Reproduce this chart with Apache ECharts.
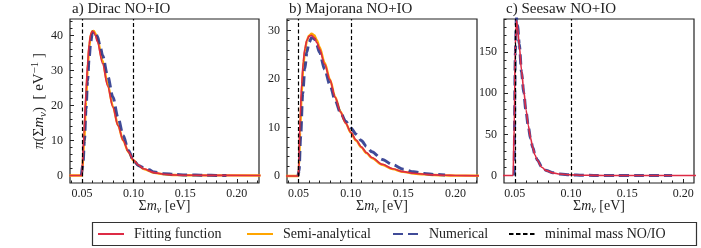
<!DOCTYPE html>
<html><head><meta charset="utf-8">
<script src="https://cdn.jsdelivr.net/npm/echarts@6/dist/echarts.min.js"></script>
<style>html,body{margin:0;padding:0;background:#fff}#c{width:701px;height:248px}</style>
</head><body><div id="c"></div>
<script>
// ---------- data ----------
const panelTitles = ['a) Dirac NO+IO', 'b) Majorana NO+IO', 'c) Seesaw NO+IO'];
const xTickLabels = [0.05, 0.10, 0.15, 0.20];
const yTicksA = [0, 10, 20, 30, 40];
const yTicksB = [0, 10, 20, 30];
const yTicksC = [0, 50, 100, 150];
const minimalMass = [0.05, 0.0995];

// Panel a: Dirac
const xA = [0.038, 0.05, 0.0502, 0.052, 0.054, 0.0555, 0.057, 0.0585, 0.060, 0.0615, 0.063, 0.065, 0.070, 0.075, 0.080, 0.085, 0.090, 0.095, 0.100, 0.105, 0.110, 0.120, 0.130, 0.140, 0.150, 0.170, 0.223];
const fitA = [0, 0, 1, 12, 24, 32, 37.5, 40.3, 41.2, 41.0, 40.0, 38.2, 32, 25.5, 19.5, 14.2, 10, 6.8, 4.4, 2.9, 1.9, 0.8, 0.35, 0.15, 0.07, 0.02, 0];
const semiA = [0, 0, 0.5, 9, 21, 30, 36.5, 40, 41.2, 41.3, 40.6, 38.9, 32.8, 26, 19.8, 14.3, 10, 6.7, 4.3, 2.8, 1.8, 0.75, 0.3, 0.13, 0.06, 0.02, 0];
const xNumA = [0.0495, 0.051, 0.0525, 0.054, 0.0555, 0.057, 0.0585, 0.060, 0.0615, 0.063, 0.065, 0.0675, 0.070, 0.075, 0.080, 0.085, 0.090, 0.095, 0.100, 0.105, 0.110, 0.115, 0.120, 0.130, 0.140, 0.150, 0.160, 0.170, 0.180, 0.190];
const numA = [0, 3, 10, 19, 27, 33.5, 38, 40.5, 41.2, 41, 39.8, 37.2, 34.3, 28.4, 22.4, 16.5, 11.4, 7.2, 4.3, 2.8, 2.2, 1.6, 1.0, 0.5, 0.3, 0.15, 0.1, 0.05, 0.02, 0];

// Panel b: Majorana
const xB = [0.038, 0.05, 0.0503, 0.0515, 0.053, 0.0545, 0.056, 0.058, 0.060, 0.0625, 0.065, 0.0675, 0.070, 0.075, 0.080, 0.085, 0.090, 0.095, 0.100, 0.105, 0.110, 0.115, 0.120, 0.130, 0.140, 0.150, 0.160, 0.170, 0.180, 0.190, 0.200, 0.223];
const fitB = [0, 0, 3, 12, 19, 23.5, 26.2, 28, 28.8, 29.0, 28.5, 27.5, 26.2, 23, 19.8, 16.2, 13.2, 10.9, 9.0, 7.4, 6.0, 4.8, 3.8, 2.4, 1.5, 0.9, 0.55, 0.35, 0.22, 0.14, 0.09, 0.04];
const semiB = [0, 0, 1.5, 9, 17, 22.5, 25.7, 27.9, 28.9, 29.3, 29.0, 28.0, 26.6, 23.3, 19.9, 16.3, 13.3, 10.9, 8.9, 7.3, 5.9, 4.7, 3.7, 2.3, 1.4, 0.85, 0.5, 0.32, 0.2, 0.12, 0.08, 0.03];
const xNumB = [0.0495, 0.0505, 0.052, 0.054, 0.056, 0.058, 0.060, 0.0625, 0.065, 0.0675, 0.070, 0.075, 0.080, 0.085, 0.090, 0.095, 0.100, 0.105, 0.110, 0.115, 0.120, 0.130, 0.140, 0.150, 0.160, 0.170, 0.180, 0.190];
const numB = [0, 1, 8, 17, 22, 25.5, 27.5, 28.5, 28.3, 27, 25.5, 22, 18.8, 15.6, 13.1, 11.3, 9.9, 8.6, 7.3, 6.1, 5.0, 3.4, 2.3, 1.4, 0.85, 0.5, 0.3, 0.2];

// Panel c: Seesaw
const xC = [0.038, 0.0485, 0.0495, 0.0505, 0.0515, 0.0525, 0.054, 0.056, 0.058, 0.060, 0.062, 0.064, 0.066, 0.068, 0.070, 0.074, 0.078, 0.084, 0.090, 0.100, 0.110, 0.120, 0.140, 0.215];
const fitC = [0, 0, 60, 160, 188, 180, 158, 128, 103, 80, 61, 46, 34, 25, 18.5, 10, 6, 3.2, 1.8, 0.8, 0.35, 0.15, 0.03, 0];
const xNumC = [0.0495, 0.0505, 0.0515, 0.0525, 0.054, 0.056, 0.058, 0.060, 0.062, 0.064, 0.066, 0.068, 0.070, 0.074, 0.078, 0.084, 0.090, 0.100, 0.110, 0.120, 0.140, 0.160, 0.190];
const numC = [0, 150, 192, 182, 160, 126, 100, 78, 60, 45, 34, 25.5, 19, 10.5, 6.2, 3.4, 1.9, 0.8, 0.35, 0.15, 0.03, 0, 0];

// ---------- chart ----------
const FONT = "'Liberation Serif', 'Times New Roman', serif";
const INK = '#222';
const RED = '#dd2b45', ORANGE = '#ffa500', BLUE = '#1f2c86';
const pairs = (xs, ys) => xs.map((x, i) => [x, ys[i]]);
const range = (a, b, s) => { const r = []; for (let v = a; v <= b + 1e-9; v += s) r.push(+v.toFixed(6)); return r; };

const rich = {
  r: {fontFamily: FONT, fontSize: 14, lineHeight: 18, color: INK},
  i: {fontFamily: FONT, fontSize: 14, lineHeight: 18, fontStyle: 'italic', color: INK},
  sub: {fontFamily: FONT, fontSize: 10, lineHeight: 10, fontStyle: 'italic', verticalAlign: 'bottom', color: INK},
  sup: {fontFamily: FONT, fontSize: 10, lineHeight: 10, verticalAlign: 'top', color: INK}
};
const richY = {
  r: {fontFamily: FONT, fontSize: 15, lineHeight: 19, color: INK},
  i: {fontFamily: FONT, fontSize: 15, lineHeight: 19, fontStyle: 'italic', color: INK},
  sub: {fontFamily: FONT, fontSize: 11, lineHeight: 11, fontStyle: 'italic', verticalAlign: 'bottom', color: INK},
  sup: {fontFamily: FONT, fontSize: 11, lineHeight: 11, verticalAlign: 'top', color: INK}
};

const panels = [
  {left: 70, width: 189, x: [0.0385, 0.2215], y: [-2.15, 44.7], yTicks: yTicksA, yMinor: 2,
   fit: pairs(xA, fitA), semi: pairs(xA, semiA), num: pairs(xNumA, numA)},
  {left: 287, width: 190, x: [0.039, 0.2205], y: [-1.45, 32.35], yTicks: yTicksB, yMinor: 2,
   fit: pairs(xB, fitB), semi: pairs(xB, semiB), num: pairs(xNumB, numB)},
  {left: 504, width: 190, x: [0.0404, 0.2095], y: [-9.1, 190.3], yTicks: yTicksC, yMinor: 10,
   fit: pairs(xC, fitC), semi: null, num: pairs(xNumC, numC)}
];

const grid = [], xAxis = [], yAxis = [], series = [], title = [];
panels.forEach((p, i) => {
  grid.push({left: p.left, width: p.width, top: 19, height: 164, show: true,
    borderColor: INK, borderWidth: 1.2, backgroundColor: 'transparent', containLabel: false});
  title.push({text: panelTitles[i], left: p.left + 2, top: 2, padding: 0,
    textStyle: {fontFamily: FONT, fontSize: 15, fontWeight: 'normal', color: INK}});
  const xMinor = range(0.04, 0.22, 0.01).filter(v => v >= p.x[0] && v <= p.x[1] && !xTickLabels.some(t => Math.abs(t - v) < 1e-6));
  const yMinorVals = range(0, p.y[1], p.yMinor).filter(v => !p.yTicks.includes(v));
  const common = {type: 'value', gridIndex: i, splitLine: {show: false}, axisLine: {show: false, onZero: false}, nameMoveOverlap: false};
  xAxis.push(Object.assign({}, common, {
    min: p.x[0], max: p.x[1], position: 'bottom',
    axisTick: {inside: true, length: 4, customValues: xTickLabels, lineStyle: {color: INK, width: 1}},
    axisLabel: {customValues: xTickLabels, formatter: v => v.toFixed(2), margin: 5, fontFamily: FONT, fontSize: 12, color: INK},
    name: '{r|Σ}{i|m}{sub|ν}{r| [eV]}', nameLocation: 'middle', nameGap: 14,
    nameTextStyle: {rich: rich}
  }));
  xAxis.push(Object.assign({}, common, {
    min: p.x[0], max: p.x[1], position: 'bottom',
    axisTick: {inside: true, length: 2.5, customValues: xMinor, lineStyle: {color: INK, width: 1}},
    axisLabel: {show: false}
  }));
  yAxis.push(Object.assign({}, common, {
    min: p.y[0], max: p.y[1], position: 'left',
    axisTick: {inside: true, length: 4, customValues: p.yTicks, lineStyle: {color: INK, width: 1}},
    axisLabel: {customValues: p.yTicks, formatter: v => String(v), margin: 7, fontFamily: FONT, fontSize: 12, color: INK},
    name: i === 0 ? '{i|π}{r|(Σ}{i|m}{sub|ν}{r|)  [ eV}{sup|−1}{r| ]}' : '',
    nameLocation: 'middle', nameGap: 21, nameRotate: 90,
    nameTextStyle: {rich: richY}
  }));
  yAxis.push(Object.assign({}, common, {
    min: p.y[0], max: p.y[1], position: 'left',
    axisTick: {inside: true, length: 2.5, customValues: yMinorVals, lineStyle: {color: INK, width: 1}},
    axisLabel: {show: false}
  }));
  const base = {type: 'line', xAxisIndex: 2 * i, yAxisIndex: 2 * i, showSymbol: false, symbol: 'none',
    smooth: 0.3, smoothMonotone: 'x', clip: true, silent: true, animation: false};
  if (p.semi) series.push(Object.assign({}, base, {name: 'Semi-analytical', data: p.semi, z: 2,
    lineStyle: {color: ORANGE, width: 2.4}, itemStyle: {color: ORANGE}}));
  series.push(Object.assign({}, base, {name: 'Numerical', data: p.num, z: 3,
    lineStyle: {color: BLUE, width: 3, type: [10, 5], opacity: 0.85}, itemStyle: {color: BLUE}}));
  series.push(Object.assign({}, base, {name: 'Fitting function', data: p.fit, z: 4,
    lineStyle: {color: RED, width: 1.6}, itemStyle: {color: RED}}));
  series.push(Object.assign({}, base, {name: 'minimal mass NO/IO', data: [], z: 5,
    lineStyle: {color: '#000', width: 1.3, type: [4.5, 2.5]}, itemStyle: {color: '#000'},
    markLine: {silent: true, symbol: ['none', 'none'], label: {show: false}, animation: false,
      lineStyle: {color: '#000', width: 1.2, type: [4, 2.5]},
      data: minimalMass.map(v => ({xAxis: v}))}}));
});

const legendItem = (name, left) => ({
  data: [name], left: left, top: 227, padding: 0, itemWidth: 26, itemHeight: 14,
  selectedMode: false, itemStyle: {opacity: 0},
  textStyle: {fontFamily: FONT, fontSize: 14, color: INK, padding: [0, 0, 0, 5]}
});

const chart = echarts.init(document.getElementById('c'), null, {renderer: 'canvas'});
chart.setOption({
  animation: false,
  backgroundColor: '#fff',
  title: title,
  grid: grid, xAxis: xAxis, yAxis: yAxis, series: series,
  legend: [
    legendItem('Fitting function', 97),
    legendItem('Semi-analytical', 246),
    legendItem('Numerical', 392),
    legendItem('minimal mass NO/IO', 508)
  ],
  graphic: [{type: 'rect', silent: true, z: -1,
    shape: {x: 92.5, y: 222.5, width: 604, height: 23},
    style: {fill: 'none', stroke: '#333', lineWidth: 1.2}}]
});
</script></body></html>
